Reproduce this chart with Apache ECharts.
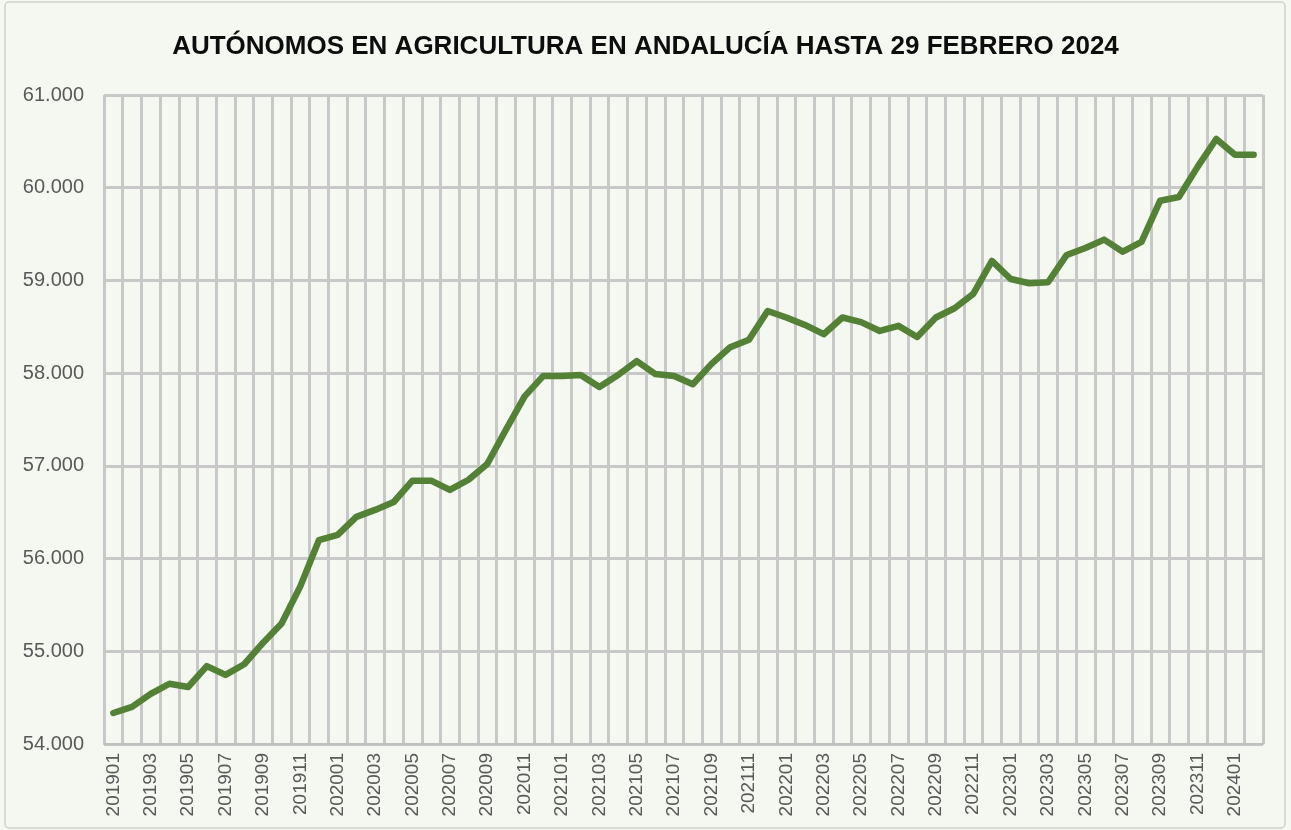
<!DOCTYPE html>
<html>
<head>
<meta charset="utf-8">
<script src="https://cdn.jsdelivr.net/npm/echarts@6/dist/echarts.min.js"></script>
<style>
  html, body { margin: 0; padding: 0; background: #f4f8f1; }
  #chart { width: 1291px; height: 830px; }
</style>
</head>
<body>
<div id="chart"></div>
<script>
// meses (AAAAMM)
const months = [
  '201901','201902','201903','201904','201905','201906','201907','201908','201909','201910','201911','201912',
  '202001','202002','202003','202004','202005','202006','202007','202008','202009','202010','202011','202012',
  '202101','202102','202103','202104','202105','202106','202107','202108','202109','202110','202111','202112',
  '202201','202202','202203','202204','202205','202206','202207','202208','202209','202210','202211','202212',
  '202301','202302','202303','202304','202305','202306','202307','202308','202309','202310','202311','202312',
  '202401','202402'
];

// autónomos en agricultura
const autonomos = [
  54334, 54400, 54540, 54650, 54615, 54840, 54745, 54860, 55090, 55300, 55700, 56200,
  56255, 56450, 56525, 56610, 56840, 56840, 56740, 56850, 57020, 57390, 57750, 57970,
  57970, 57980, 57850, 57980, 58130, 57990, 57970, 57880, 58100, 58280, 58360, 58670,
  58600, 58520, 58420, 58600, 58550, 58455, 58510, 58390, 58600, 58700, 58855, 59210,
  59015, 58970, 58980, 59275, 59350, 59440, 59310, 59415, 59860, 59900, 60225, 60525,
  60355, 60355
];

const yMin = 54000;
const yMax = 61000;
const yStep = 1000;

const fmt = v => String(v).replace(/\B(?=(\d{3})+(?!\d))/g, '.');
const font = '"Liberation Sans Narrow", "Liberation Sans", Arial, sans-serif';

const chart = echarts.init(document.getElementById('chart'), null, { renderer: 'canvas' });

chart.setOption({
  backgroundColor: '#f4f8f1',
  animation: false,
  graphic: [{
    type: 'rect',
    shape: { x: 5, y: 2, width: 1280, height: 826, r: 4 },
    style: { fill: 'none', stroke: '#d0d0d0', lineWidth: 1.5 },
    silent: true
  }],
  title: {
    text: 'AUTÓNOMOS EN AGRICULTURA EN ANDALUCÍA HASTA 29 FEBRERO 2024',
    left: 'center',
    top: 29,
    textStyle: {
      fontFamily: font,
      fontWeight: 'bold',
      fontSize: 26,
      color: '#0d0d0d'
    }
  },
  grid: { left: 104, right: 28, top: 95, bottom: 86 },
  xAxis: {
    type: 'category',
    data: months,
    boundaryGap: true,
    axisLine: { lineStyle: { color: '#bfbfbf', width: 2 } },
    axisTick: { show: false },
    axisLabel: {
      interval: 1,
      rotate: 90,
      margin: 9,
      color: '#595959',
      fontSize: 19,
      fontFamily: font
    },
    splitLine: { show: true, interval: 0, lineStyle: { color: '#c8c8c8', width: 3 } }
  },
  yAxis: {
    type: 'value',
    min: yMin,
    max: yMax,
    interval: yStep,
    axisLine: { show: false },
    axisTick: { show: false },
    axisLabel: {
      formatter: fmt,
      margin: 20,
      color: '#595959',
      fontSize: 20,
      fontFamily: font
    },
    splitLine: { lineStyle: { color: '#c8c8c8', width: 3 } }
  },
  series: [{
    type: 'line',
    data: autonomos,
    symbol: 'none',
    lineStyle: { color: '#538135', width: 6.5, join: 'round', cap: 'round' }
  }]
});
</script>
</body>
</html>
